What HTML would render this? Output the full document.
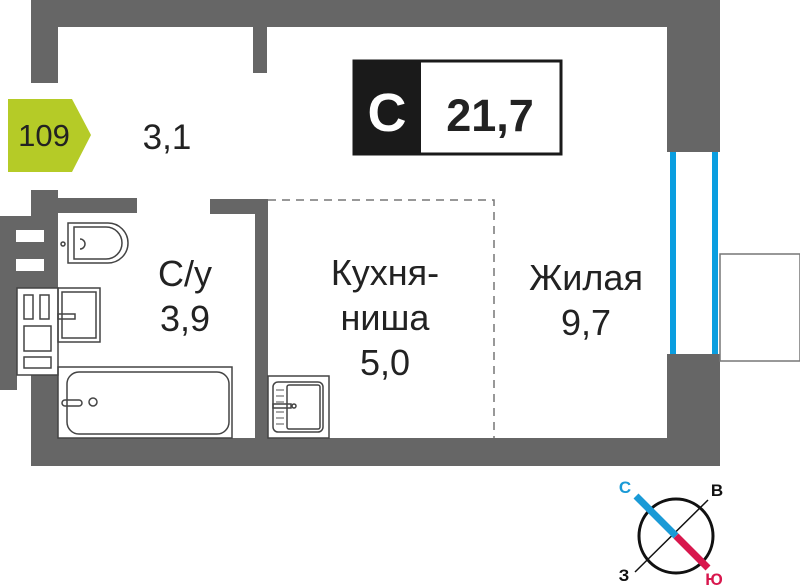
<!DOCTYPE html>
<html><head><meta charset="utf-8"><style>html,body{margin:0;padding:0;background:#fff}svg{display:block}</style></head><body>
<svg width="800" height="588" viewBox="0 0 800 588" xmlns="http://www.w3.org/2000/svg" font-family="'Liberation Sans', sans-serif">
<g fill="#666">
<rect x="31" y="0" width="689" height="27"/>
<rect x="31" y="0" width="27" height="83"/>
<rect x="253" y="27" width="14" height="46"/>
<rect x="667" y="0" width="53" height="152"/>
<rect x="667" y="354" width="53" height="112"/>
<rect x="31" y="438" width="689" height="28"/>
<rect x="31" y="190" width="27" height="276"/>
<rect x="58" y="198" width="79" height="15"/>
<rect x="210" y="199" width="58" height="15"/>
<rect x="255" y="199" width="13" height="240"/>
<rect x="0" y="216" width="58" height="72"/>
<rect x="0" y="288" width="17" height="102"/>
</g>
<rect x="16" y="230" width="28" height="12" fill="#fff"/>
<rect x="16" y="259" width="28" height="12" fill="#fff"/>
<g fill="none" stroke="#444" stroke-width="1.5">
<rect x="17" y="288" width="41" height="87" fill="#fff"/>
<rect x="24" y="295" width="9" height="24"/><rect x="40" y="295" width="9" height="24"/>
<rect x="24" y="326" width="27" height="25"/><rect x="24" y="357" width="27" height="11"/>
<rect x="58" y="288" width="42" height="54"/><rect x="62" y="292" width="34" height="46"/>
<rect x="58" y="314" width="17" height="5"/>
<path d="M68 223 H108 A20 20 0 0 1 108 263 H68 Z"/><path d="M74 227 H106 A16 16 0 0 1 106 259 H74 Z"/>
<circle cx="63" cy="244" r="2"/><path d="M80 239 A5 5 0 0 1 80 249"/>
<rect x="58" y="367" width="174" height="71"/><rect x="67" y="372" width="162" height="62" rx="12"/>
<rect x="62" y="400" width="20" height="6" rx="3"/><circle cx="93" cy="402" r="4"/>
<rect x="268" y="376" width="61" height="62"/><rect x="273" y="382" width="50" height="50" rx="5"/>
<rect x="287" y="385" width="33" height="44" rx="2"/><rect x="273" y="404" width="18" height="4"/><circle cx="294" cy="406" r="2"/>
<rect x="720" y="254" width="80" height="107" stroke="#777"/>
</g>
<g stroke="#555" stroke-width="1"><path d="M276 390h8M276 396h8M276 402h8M276 412h8M276 418h8M276 424h8"/></g>
<rect x="670" y="152" width="6" height="202" fill="#0a9ee0"/>
<rect x="712" y="152" width="6" height="202" fill="#0a9ee0"/>
<path d="M268 200 H494 V438" fill="none" stroke="#777" stroke-width="1.5" stroke-dasharray="8,6"/>
<path d="M8 99 H72 L91 135 L72 172 H8 Z" fill="#b5cb27"/>
<text x="44" y="146" font-size="31" text-anchor="middle" fill="#222">109</text>
<text x="167" y="149" font-size="35" text-anchor="middle" fill="#222">3,1</text>
<rect x="354" y="61" width="207" height="93" fill="#fff" stroke="#1a1a1a" stroke-width="3"/>
<rect x="353" y="60" width="68" height="95" fill="#1a1a1a"/>
<text x="387" y="131" font-size="54" font-weight="bold" text-anchor="middle" fill="#fff">C</text>
<text x="490" y="131" font-size="45" font-weight="bold" text-anchor="middle" fill="#222">21,7</text>
<text x="185" y="286" font-size="36" text-anchor="middle" fill="#222">С/у</text>
<text x="185" y="331" font-size="36" text-anchor="middle" fill="#222">3,9</text>
<text x="385" y="285" font-size="36" text-anchor="middle" fill="#222">Кухня-</text>
<text x="385" y="330" font-size="36" text-anchor="middle" fill="#222">ниша</text>
<text x="385" y="375" font-size="36" text-anchor="middle" fill="#222">5,0</text>
<text x="586" y="290" font-size="36" text-anchor="middle" fill="#222">Жилая</text>
<text x="586" y="335" font-size="36" text-anchor="middle" fill="#222">9,7</text>
<circle cx="676" cy="536" r="37" fill="none" stroke="#111" stroke-width="3"/>
<line x1="635" y1="572" x2="708" y2="500" stroke="#111" stroke-width="1.5"/>
<line x1="636" y1="496" x2="676" y2="536" stroke="#1a9ad6" stroke-width="7"/>
<line x1="676" y1="536" x2="708" y2="568" stroke="#d8174d" stroke-width="7"/>
<text x="625" y="493" font-size="17" font-weight="bold" text-anchor="middle" fill="#1a9ad6">С</text>
<text x="717" y="496" font-size="17" font-weight="bold" text-anchor="middle" fill="#111">В</text>
<text x="624" y="581" font-size="17" font-weight="bold" text-anchor="middle" fill="#111">З</text>
<text x="714" y="585" font-size="17" font-weight="bold" text-anchor="middle" fill="#d8174d">Ю</text>
</svg>
</body></html>
